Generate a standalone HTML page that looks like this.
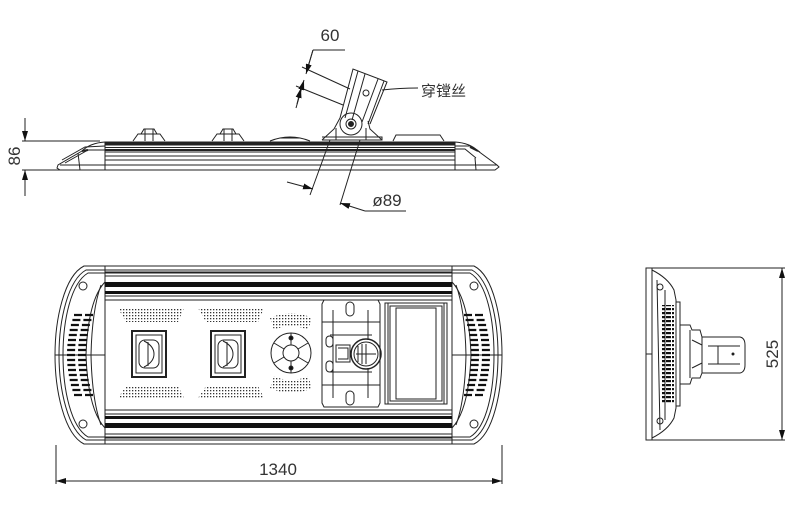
<!DOCTYPE html>
<html><head><meta charset="utf-8"><style>
html,body{margin:0;padding:0;background:#fff;width:800px;height:516px;overflow:hidden}
svg text{font-family:"Liberation Sans","Noto Sans CJK SC",sans-serif;fill:#333}
</style></head><body>
<svg width="800" height="516" viewBox="0 0 800 516" xmlns="http://www.w3.org/2000/svg">
<defs>
<marker id="a" viewBox="0 0 10 6" refX="10" refY="3" markerWidth="10" markerHeight="6" orient="auto-start-reverse" markerUnits="userSpaceOnUse"><path d="M0,0L10,3L0,6z" fill="#111"/></marker>
<pattern id="dots" width="3" height="3" patternUnits="userSpaceOnUse"><rect width="1.3" height="1.3" fill="#333"/></pattern>
<pattern id="slots" width="6" height="4" patternUnits="userSpaceOnUse"><rect width="5" height="2.2" fill="#111"/></pattern>
</defs>
<g fill="none" stroke="#222" stroke-width="1">
<!-- ===== SIDE VIEW ===== -->
<path d="M58,165 L57,168 L60,170 L495,170 L499,167 L497,165 L478,151 Q470,143 455,142 L105,142 Q90,143 82,151 Z"/>
<path d="M60,165 L497,165"/>
<path d="M105,142 L105,170 M455,142 L455,170"/>
<path d="M105,145 L455,145 M105,147.5 L455,147.5 M105,152 L455,152 M105,156 L455,156 M105,160 L455,160"/>
<path d="M105,143.5 L455,143.5" stroke-width="2"/>
<path d="M105,150 L455,150" stroke-width="2"/>
<path d="M62,160 L85,147 L105,146 M65,163 L88,150 L105,150 M78,153 L80,170"/>
<path d="M480,152 L470,146 L455,146 M476,158 L465,149 L455,149 M475,158 L476,170"/>
<path d="M82,151 L88,150" stroke-width="2"/>
<path d="M470,147 L478,151" stroke-width="2"/>
<path d="M133,141 L138,134 L160,134 L165,141 M141,134 L144,129 L154,129 L157,134 M145,129 L145,141 M153,129 L153,141"/>
<path d="M212,141 L217,134 L239,134 L244,141 M220,134 L223,129 L233,129 L236,134 M224,129 L224,141 M232,129 L232,141"/>
<path d="M270,141 Q290,133 310,141 M280,138 L300,138"/>
<path d="M393,141 L396,135 L440,135 L444,141"/>
<path d="M322,140 L334,129 L340,118 M382,140 L370,129 L368,121"/>
<path d="M322,140 L382,140 L382,137 L322,137"/>
<path d="M340,118 L353,69 L387,82 L370,124"/>
<path d="M358,71 L345,118 M365,74 L352,120 M378,79 L362,122 M384,81 L368,124"/>
<circle cx="351" cy="124" r="11"/>
<circle cx="351" cy="124" r="5"/>
<circle cx="351" cy="124" r="2.5" fill="#222"/>
<circle cx="366" cy="93" r="3"/>
<path d="M336,140 L336,128 M366,140 L366,128"/>
<path d="M302,67 L350,89 M296,86 L343,105"/>
<path d="M313,50 L345,50"/>
<path d="M313,50 L307,70" />
<path d="M304,80 L296,108" marker-start="url(#a)" />
<path d="M313,50 L306,74" marker-end="url(#a)"/>
<path d="M297,104 L301,88" marker-end="url(#a)"/>
<path d="M382,90 Q400,88 418,88"/>
<path d="M22,141 L100,141 M22,170 L60,170"/>
<path d="M25,118 L25,141" marker-end="url(#a)"/>
<path d="M25,196 L25,170" marker-end="url(#a)"/>
<path d="M330,140 L310,195 M360,140 L340,205"/>
<path d="M287,182 L313,189" marker-end="url(#a)"/>
<path d="M365,211 L340,203" marker-end="url(#a)"/>
<path d="M365,211 L406,211"/>

<!-- ===== BOTTOM VIEW ===== -->
<path d="M84,266 L474,266 C494,276 502,320 502,355 C502,390 494,434 474,444 L84,444 C64,434 55,390 55,355 C55,320 64,276 84,266 Z"/>
<path d="M86,270 L472,270 C490,280 498,320 498,355 C498,390 490,430 472,440 L86,440 C68,430 59,390 59,355 C59,320 68,280 86,270 Z"/>
<path d="M88,273 L470,273 C487,283 494,320 494,355 C494,390 487,427 470,437 L88,437 C71,427 63,390 63,355 C63,320 71,283 88,273 Z"/>
<path d="M105,266 L105,444 M452,266 L452,444"/>
<path d="M105,272 L452,272 M105,276 L452,276 M105,296 L452,296 M105,300 L452,300"/>
<path d="M105,410 L452,410 M105,414 L452,414 M105,434 L452,434 M105,438 L452,438"/>
<rect x="105" y="282" width="347" height="5" fill="#111" stroke="none"/>
<rect x="105" y="291" width="347" height="3" fill="#111" stroke="none"/>
<rect x="105" y="416" width="347" height="3" fill="#111" stroke="none"/>
<rect x="105" y="423" width="347" height="5" fill="#111" stroke="none"/>
<path d="M105,282 Q88,300 86,355 Q88,410 105,428"/>
<path d="M101,285 Q92,310 91,355 Q92,400 101,425"/>
<path d="M452,282 Q469,300 471,355 Q469,410 452,428"/>
<path d="M456,285 Q465,310 466,355 Q465,400 456,425"/>
<path d="M55,355 L105,355 M452,355 L502,355"/>
<circle cx="83" cy="286" r="4"/><circle cx="83" cy="424" r="4"/>
<circle cx="474" cy="286" r="4"/><circle cx="474" cy="424" r="4"/>
<g stroke="#111" stroke-width="2.2">
<path d="M74,315h8M85,315h8 M72.4,320h8M83.4,320h8 M70.9,325h8M81.9,325h8 M69.7,330h8M80.7,330h8 M68.8,335h8M79.8,335h8 M68,340h8M79,340h8 M67.4,345h8M78.4,345h8 M67.1,350h8M78.1,350h8 M67,355h8M78,355h8 M67.1,360h8M78.1,360h8 M67.4,365h8M78.4,365h8 M68,370h8M79,370h8 M68.8,375h8M79.8,375h8 M69.7,380h8M80.7,380h8 M70.9,385h8M81.9,385h8 M72.4,390h8M83.4,390h8 M74,395h8M85,395h8"/>
<path d="M483,315h-8M472,315h-8 M484.6,320h-8M473.6,320h-8 M486.1,325h-8M475.1,325h-8 M487.3,330h-8M476.3,330h-8 M488.2,335h-8M477.2,335h-8 M489,340h-8M478,340h-8 M489.6,345h-8M478.6,345h-8 M489.9,350h-8M478.9,350h-8 M490,355h-8M479,355h-8 M489.9,360h-8M478.9,360h-8 M489.6,365h-8M478.6,365h-8 M489,370h-8M478,370h-8 M488.2,375h-8M477.2,375h-8 M487.3,380h-8M476.3,380h-8 M486.1,385h-8M475.1,385h-8 M484.6,390h-8M473.6,390h-8 M483,395h-8M472,395h-8"/>
</g>
<path d="M118,308 L184,308 L178,322 L126,322 Z" fill="url(#dots)" stroke="none"/>
<path d="M198,308 L264,308 L258,322 L206,322 Z" fill="url(#dots)" stroke="none"/>
<path d="M126,386 L178,386 L184,398 L118,398 Z" fill="url(#dots)" stroke="none"/>
<path d="M206,386 L258,386 L264,398 L198,398 Z" fill="url(#dots)" stroke="none"/>
<path d="M270,318 Q291,308 312,318 L308,330 Q291,322 274,330 Z" fill="url(#dots)" stroke="none"/>
<path d="M274,376 Q291,384 308,376 L312,388 Q291,398 270,388 Z" fill="url(#dots)" stroke="none"/>
<rect x="132" y="331" width="34" height="46" stroke-width="2"/>
<rect x="136" y="335" width="26" height="38"/>
<rect x="139" y="340" width="20" height="28" rx="6"/>
<path d="M144,341 Q154,346 154,354 Q154,362 144,367 M148,342 L148,366"/>
<rect x="211" y="331" width="34" height="46" stroke-width="2"/>
<rect x="215" y="335" width="26" height="38"/>
<rect x="218" y="340" width="20" height="28" rx="6"/>
<path d="M223,341 Q233,346 233,354 Q233,362 223,367 M227,342 L227,366"/>
<circle cx="291" cy="353" r="20"/>
<circle cx="291" cy="353" r="8"/>
<path d="M291,333 L291,345 M291,361 L291,373 M274,343 L284,349 M298,357 L308,363 M274,363 L284,357 M298,349 L308,343"/>
<circle cx="291" cy="338" r="2" fill="#111"/><circle cx="291" cy="368" r="2" fill="#111"/>
<path d="M324,300 L378,300 L380,304 L380,403 L378,407 L324,407 L322,403 L322,304 Z"/>
<path d="M322,322 L380,322 M322,385 L380,385 M330,335 L372,335 M330,372 L372,372"/>
<rect x="346" y="302" width="8" height="14" rx="4"/><rect x="346" y="391" width="8" height="14" rx="4"/>
<rect x="326" y="336" width="7" height="11" rx="3.5"/><rect x="326" y="361" width="7" height="11" rx="3.5"/>
<path d="M336,345 L350,345 L350,362 L336,362 Z M338,348 L348,348 L348,359 L338,359"/>
<circle cx="366" cy="354" r="15" stroke-width="1.5"/>
<circle cx="366" cy="354" r="12"/>
<path d="M358,346 L358,362 M362,344 L362,364 M366,344 L366,364 M356,354 L376,354"/>
<path d="M333,310 L333,398 M368,310 L368,340 M368,368 L368,398" />
<rect x="385" y="303" width="62" height="101"/>
<rect x="390" y="306" width="52" height="95"/>
<rect x="396" y="308" width="40" height="91"/>
<path d="M388,303 L388,404 M444,303 L444,404"/>
<path d="M56,445 L56,484 M502,445 L502,484"/>
<path d="M278,481 L56,481" marker-end="url(#a)"/>
<path d="M278,481 L502,481" marker-end="url(#a)"/>

<!-- ===== END VIEW ===== -->
<rect x="646" y="268" width="6" height="172"/>
<path d="M652,268 L785,268 M652,440 L785,440"/>
<path d="M646,354 L652,354"/>
<path d="M652,270 Q668,278 674,290 L676,300 L676,408 L674,418 Q668,430 652,438"/>
<path d="M657,280 L660,430 M665,290 L665,420"/>
<circle cx="660" cy="287" r="3"/><circle cx="660" cy="421" r="3"/>
<rect x="662" y="305" width="12" height="98" fill="url(#slots)" stroke="none"/>
<path d="M676,302 L680,302 L680,406 L676,406"/>
<path d="M680,325 L690,325 L692,330 L700,330 L702,337 L740,337 Q745,338 745,345 L745,365 Q745,372 740,373 L702,373 L700,378 L692,378 L690,384 L680,384"/>
<path d="M690,330 L690,378 M702,337 L702,373 M708,346 L740,346 M708,364 L740,364 M718,346 L718,364 M692,340 L702,345 M692,368 L702,363"/>
<circle cx="733" cy="354" r="1" fill="#111"/>
<path d="M782,354 L782,268" marker-end="url(#a)"/>
<path d="M782,354 L782,440" marker-end="url(#a)"/>
</g>
<text x="330" y="41" font-size="17" text-anchor="middle">60</text>
<text x="421" y="96" font-size="15">穿镗丝</text>
<text transform="translate(20,156) rotate(-90)" font-size="17" text-anchor="middle">86</text>
<text x="387" y="206" font-size="17" text-anchor="middle">ø89</text>
<text x="278" y="475" font-size="17" text-anchor="middle">1340</text>
<text transform="translate(778,354) rotate(-90)" font-size="17" text-anchor="middle">525</text>
</svg>
</body></html>
